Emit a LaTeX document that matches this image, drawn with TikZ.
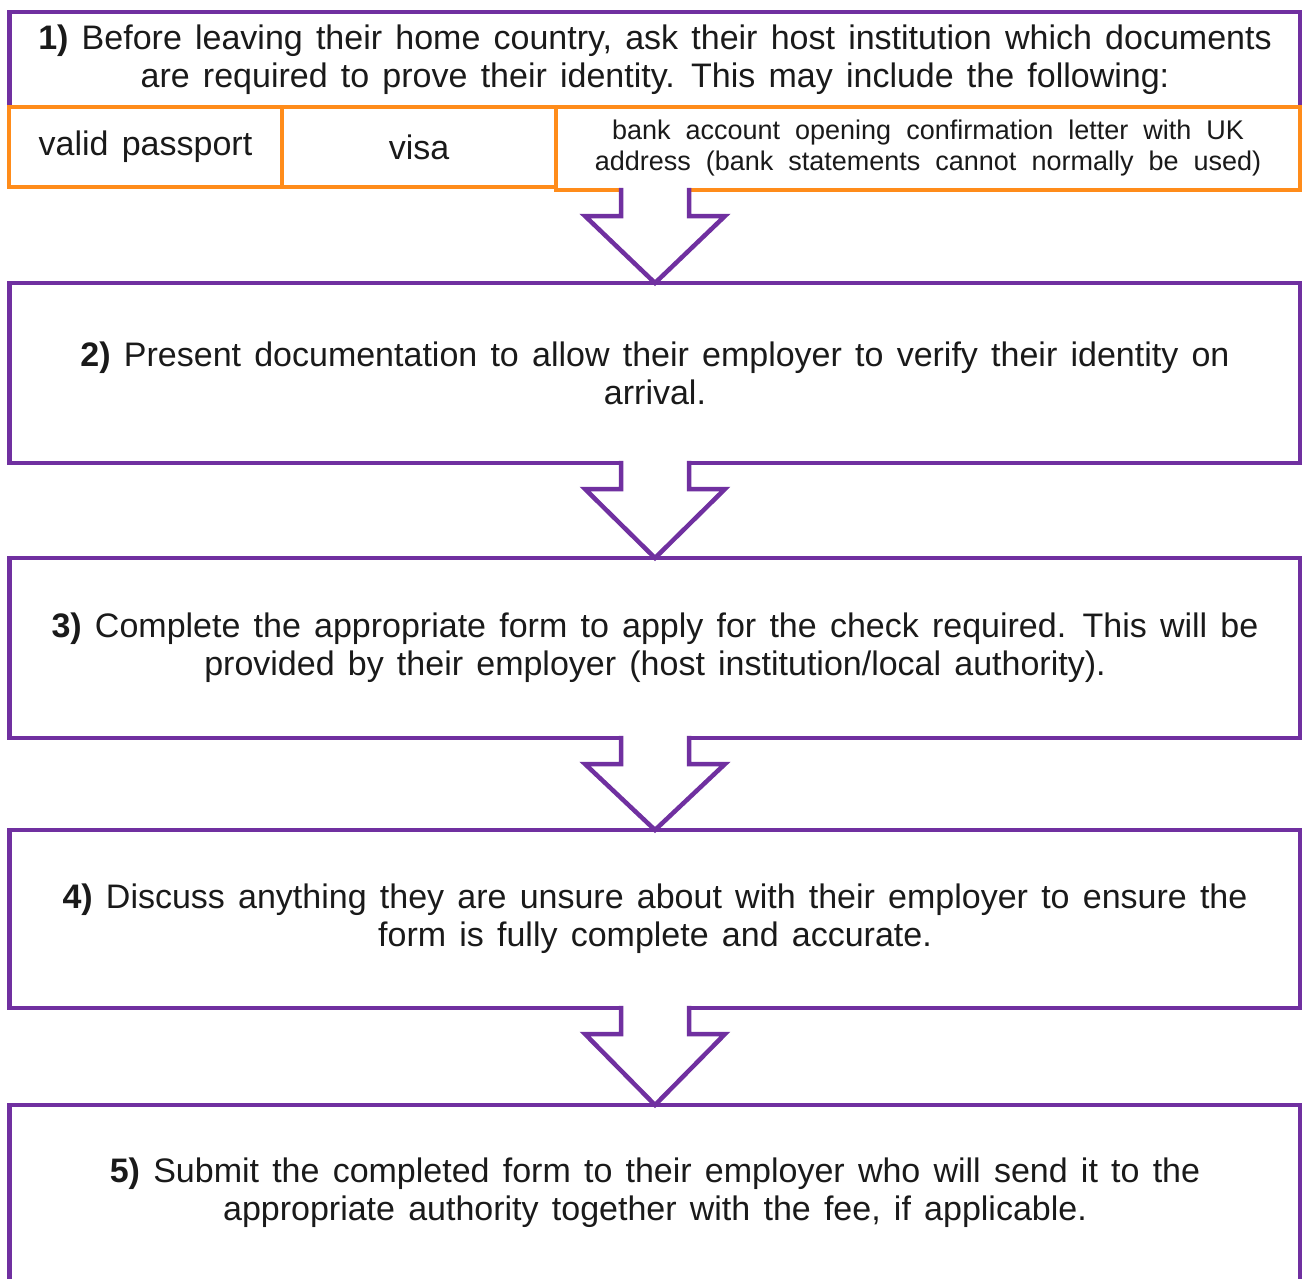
\documentclass[tikz,border=0pt]{standalone}
\usepackage{fontspec}
\setmainfont[WordSpace=1.4]{Liberation Sans}
\newfontfamily\bankfont[WordSpace=2]{Liberation Sans}
\usetikzlibrary{calc}
\definecolor{boxpurple}{HTML}{7030A0}
\definecolor{cellorange}{HTML}{FF8C1A}
\definecolor{txt}{HTML}{1A1A1A}
\newcommand\flowarrow[2]{%
  \path[arrowshape] let \p1=(#1), \p2=(#2.north) in
    (\x2-34pt,\y1+2.2pt) -- (\x2-34pt,\y1-26pt) -- (\x2-70pt,\y1-26pt) -- (\x2,\y2)
    -- (\x2+70pt,\y1-26pt) -- (\x2+34pt,\y1-26pt) -- (\x2+34pt,\y1+2.2pt);}
\begin{document}
\begin{tikzpicture}[x=1pt,y=-1pt,
  stepbox/.style={draw=boxpurple, line width=4.5pt, fill=white, inner sep=0pt, outer sep=0pt,
    align=center, text=txt, font=\fontsize{34}{38}\selectfont},
  cellbox/.style={draw=cellorange, line width=4.5pt, fill=white, inner sep=0pt, outer sep=0pt,
    align=center, text=txt, font=\fontsize{34}{38}\selectfont},
  arrowshape/.style={draw=boxpurple, line width=4.5pt, fill=white}]
\useasboundingbox (0,0) rectangle (1302,1279);
\fill[white] (0,0) rectangle (1302,1279);
% step 1
\node[stepbox, minimum width=1291pt, minimum height=96pt] (b1) at (655,60)
  {\textbf{1)} Before leaving their home country, ask their host institution which documents\\
   are required to prove their identity. This may include the following:};
\node[cellbox, minimum width=273pt, minimum height=80pt] (c1) at (145.5,147) {valid passport};
\node[cellbox, minimum width=274pt, minimum height=80pt] (c2) at (419,147) {visa};
\node[cellbox, minimum width=744pt, minimum height=83pt, font=\bankfont\fontsize{27}{31}\selectfont] (c3) at (928,148.5)
  {bank account opening confirmation letter with UK\\
   address (bank statements cannot normally be used)};
% steps 2-4
\node[stepbox, minimum width=1291pt, minimum height=180pt] (b2) at (655,373)
  {\textbf{2)} Present documentation to allow their employer to verify their identity on\\ arrival.};
\node[stepbox, minimum width=1291pt, minimum height=180pt] (b3) at (655,648)
  {\textbf{3)} Complete the appropriate form to apply for the check required. This will be\\
   provided by their employer (host institution/local authority).};
\node[stepbox, minimum width=1291pt, minimum height=178pt] (b4) at (655,919)
  {\textbf{4)} Discuss anything they are unsure about with their employer to ensure the\\
   form is fully complete and accurate.};
% step 5 (open at the bottom)
\node[stepbox, draw=none, minimum width=1291pt, minimum height=176pt] (b5) at (655,1193)
  {\textbf{5)} Submit the completed form to their employer who will send it to the\\
   appropriate authority together with the fee, if applicable.};
\draw[boxpurple, line width=4.5pt] ($(b5.south west)+(0,10)$) |- (b5.north east) -- ($(b5.south east)+(0,10)$);
% arrows
\flowarrow{c3.south}{b2}
\flowarrow{b2.south}{b3}
\flowarrow{b3.south}{b4}
\flowarrow{b4.south}{b5}
\end{tikzpicture}
\end{document}
